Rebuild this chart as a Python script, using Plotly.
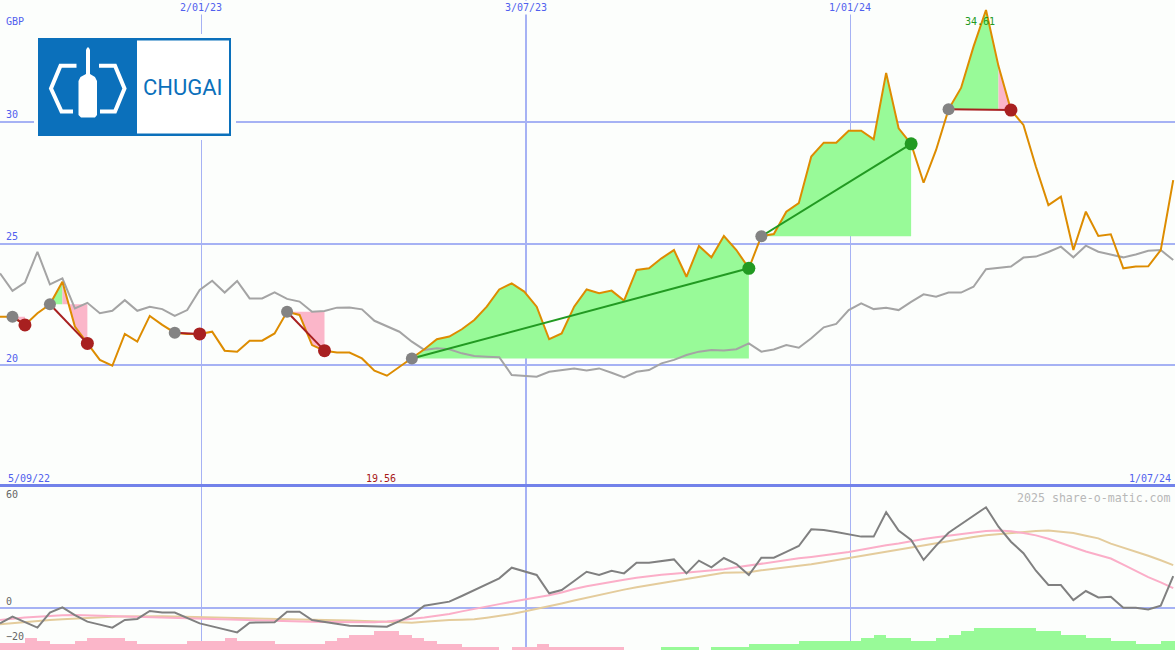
import pandas as pd
import plotly.graph_objects as go

# ---------------- data ----------------
start_date = "2022-09-11"
n_weeks = 95

price = [21.99, 21.99, 21.65, 22.13, 22.50, 23.43, 21.58, 20.89, 20.21, 19.97,
         21.28, 20.96, 22.02, 21.65, 21.33, 21.28, 21.28, 21.37, 20.59, 20.55,
         21.00, 21.00, 21.30, 22.19, 22.06, 20.82, 20.59, 20.51, 20.51, 20.27,
         19.77, 19.56, 19.93, 20.27, 20.65, 21.06, 21.17, 21.47, 21.85, 22.40,
         23.11, 23.36, 23.02, 22.40, 21.06, 21.30, 22.40, 23.11, 22.95, 23.06,
         22.65, 23.91, 23.98, 24.39, 24.73, 23.63, 24.90, 24.43, 25.31, 24.73,
         23.98, 25.30, 25.39, 26.31, 26.66, 28.58, 29.15, 29.15, 29.64, 29.64,
         29.29, 32.02, 29.74, 29.10, 27.50, 28.85, 30.52, 31.40, 33.10, 34.61,
         32.30, 30.49, 29.88, 28.16, 26.58, 26.93, 24.73, 26.31, 25.31, 25.38,
         23.98, 24.05, 24.06, 24.73, 27.61]

benchmark = [23.77, 23.05, 23.39, 24.66, 23.32, 23.57, 22.33, 22.56, 22.13, 22.23,
             22.67, 22.23, 22.40, 22.30, 22.02, 22.26, 23.09, 23.47, 22.98, 23.46,
             22.74, 22.74, 22.99, 22.72, 22.61, 22.19, 22.22, 22.36, 22.37, 22.29,
             21.82, 21.58, 21.37, 20.96, 20.62, 20.69, 20.65, 20.48, 20.37, 20.34,
             20.32, 19.59, 19.55, 19.52, 19.72, 19.79, 19.86, 19.77, 19.86, 19.68,
             19.49, 19.72, 19.79, 20.07, 20.21, 20.41, 20.55, 20.62, 20.60, 20.65,
             20.89, 20.55, 20.64, 20.82, 20.71, 21.10, 21.55, 21.69, 22.26, 22.54,
             22.30, 22.36, 22.26, 22.60, 22.91, 22.81, 22.98, 22.98, 23.22, 23.94,
             24.00, 24.05, 24.42, 24.46, 24.65, 24.87, 24.43, 24.91, 24.66, 24.55,
             24.43, 24.55, 24.70, 24.73, 24.32]

momentum = [-8.7, -4.9, -8.0, -11.1, -2.6, 0.4, -4.0, -7.7, -9.4, -11.1,
            -6.8, -6.2, -1.7, -2.6, -2.6, -5.6, -8.7, -10.4, -12.1, -13.8,
            -8.3, -8.2, -8.1, -2.1, -2.1, -6.8, -7.8, -8.7, -10.0, -10.2,
            -10.4, -10.6, -7.4, -4.0, 1.3, 2.5, 3.6, 6.8, 10.1, 13.5,
            16.8, 22.8, 20.8, 18.7, 8.3, 10.2, 15.3, 20.5, 18.7, 21.1,
            19.6, 25.6, 25.6, 26.5, 27.5, 19.6, 26.8, 23.0, 28.3, 24.9,
            18.7, 28.5, 28.5, 31.8, 35.1, 44.5, 44.1, 43.0, 41.5, 40.4,
            40.4, 54.2, 43.8, 38.5, 27.2, 35.3, 42.6, 47.4, 52.1, 57.0,
            46.0, 37.5, 31.0, 21.1, 13.0, 13.0, 4.5, 9.6, 6.0, 6.4,
            0.2, 0.2, -0.8, 1.3, 18.1]

ma_fast = [-6.8, -6.0, -5.4, -5.0, -4.5, -4.1, -4.0, -4.2, -4.6, -4.9,
           -5.0, -5.1, -5.3, -5.4, -5.6, -5.9, -6.2, -6.5, -6.8, -7.0,
           -7.1, -7.2, -7.3, -7.4, -7.6, -7.8, -7.9, -8.0, -8.1, -8.1,
           -8.1, -7.6, -7.0, -6.4, -5.4, -4.4, -3.4, -1.9, -0.4, 0.9,
           2.2, 3.5, 4.6, 5.9, 7.2, 8.8, 10.8, 12.3, 13.6, 15.0,
           16.0, 17.1, 18.1, 18.8, 19.4, 20.0, 20.6, 21.3, 21.9, 23.0,
           24.1, 25.2, 26.3, 27.3, 28.1, 28.9, 29.8, 30.7, 31.7, 33.0,
           34.4, 35.5, 36.5, 37.9, 39.0, 40.0, 41.0, 42.0, 42.8, 43.6,
           43.8, 43.4, 42.4, 41.1, 39.2, 36.8, 34.0, 32.0, 30.0, 28.0,
           24.5, 21.0, 17.5, 14.5, 11.2]

ma_slow = [-9.2, -8.5, -7.8, -7.2, -6.8, -6.4, -6.0, -5.5, -5.2, -5.0,
           -4.8, -4.6, -4.5, -4.6, -4.8, -5.0, -5.2, -5.4, -5.6, -5.8,
           -6.0, -6.2, -6.3, -6.5, -6.6, -6.7, -6.8, -7.0, -7.1, -7.2,
           -7.4, -7.8, -8.1, -8.3, -7.8, -7.2, -6.8, -6.6, -6.4, -5.5,
           -4.5, -3.4, -2.0, -0.6, 0.8, 2.6, 4.2, 5.8, 7.4, 9.0,
           10.4, 11.7, 12.9, 14.2, 15.4, 16.7, 17.8, 18.9, 20.0, 20.1,
           20.2, 21.3, 22.1, 22.9, 23.7, 24.8, 25.9, 27.1, 28.2, 29.4,
           30.6, 31.8, 33.1, 34.2, 35.5, 36.8, 38.1, 39.2, 40.2, 41.2,
           41.9, 42.5, 43.1, 43.6, 43.8, 43.2, 42.5, 40.9, 39.4, 36.4,
           34.2, 32.0, 29.6, 27.0, 24.3]

hist = [-7, -7, -12, -9, -6, -6, -9, -12, -12, -12,
        -9, -6, -6, -6, -6, -9, -9, -9, -12, -9,
        -9, -9, -6, -6, -6, -6, -9, -12, -15, -15,
        -19, -19, -15, -12, -9, -6, -6, -3, -3, -3,
        0, -3, -3, -6, -3, -3, -3, -3, -3, -3,
        0, 0, 0, 3, 3, 3, 0, 3, 3, 3,
        6, 6, 6, 6, 9, 9, 9, 9, 9, 12,
        15, 12, 12, 9, 9, 12, 15, 19, 22, 22,
        22, 22, 22, 19, 19, 15, 15, 12, 12, 9,
        9, 6, 6, 9, 9]

trade_entry = [1, 4, 14, 23, 33, 61, 76]
trade_exit = [2, 7, 16, 26, 60, 73, 81]
trade_split = [1, 5, 14, 23, 60, 73, 80]

tick_dates = ["2023-01-02", "2023-07-03", "2024-01-01"]
tick_labels = ["2/01/23", "3/07/23", "1/01/24"]
price_ticks = [20, 25, 30]
osc_ticks = [-20, 0, 60]
first_label = "5/09/22"
last_label = "1/07/24"
currency = "GBP"
brand = "CHUGAI"
credit = "2025 share-o-matic.com"

# ---------------- styling ----------------
W, H = 1175, 650
BG = "#fcfefc"
GRID = "#a6b2f4"
BLUE_TXT = "#5060ee"
ORANGE = "#dd8c00"
GREY = "#a4a4a4"
GREEN_FILL = "#98fa98"
PINK_FILL = "#fbb6c9"
WIN = "#229a22"
LOSS = "#a82020"
MONO = "DejaVu Sans Mono"
LOGO_BLUE = "#0b70bb"

split_px = 487
main_dom = [1 - split_px / H, 1]
low_dom = [0, 1 - split_px / H]

dates = pd.date_range(start_date, periods=n_weeks, freq="7D")
x_range = [dates[0], dates[-1] + pd.Timedelta(days=1)]

fig = go.Figure()

# trade fills
for e, s, x_ in zip(trade_entry, trade_split, trade_exit):
    level = price[e]
    if s > e:
        xs = list(dates[e:s + 1]) + [dates[s], dates[e]]
        ys = price[e:s + 1] + [level, level]
        fig.add_trace(go.Scatter(x=xs, y=ys, fill="toself", fillcolor=GREEN_FILL,
                                 mode="none", hoverinfo="skip"))
    if x_ > s:
        xs = list(dates[s:x_ + 1]) + [dates[x_], dates[s]]
        ys = price[s:x_ + 1] + [level, level]
        fig.add_trace(go.Scatter(x=xs, y=ys, fill="toself", fillcolor=PINK_FILL,
                                 mode="none", hoverinfo="skip"))

# benchmark and price
fig.add_trace(go.Scatter(x=dates, y=benchmark, mode="lines",
                         line=dict(color=GREY, width=2)))
fig.add_trace(go.Scatter(x=dates, y=price, mode="lines",
                         line=dict(color=ORANGE, width=2)))

# trade lines and markers
for e, x_ in zip(trade_entry, trade_exit):
    col = WIN if price[x_] > price[e] else LOSS
    fig.add_trace(go.Scatter(x=[dates[e], dates[x_]], y=[price[e], price[x_]],
                             mode="lines", line=dict(color=col, width=2)))
for e, x_ in zip(trade_entry, trade_exit):
    col = WIN if price[x_] > price[e] else LOSS
    fig.add_trace(go.Scatter(x=[dates[e]], y=[price[e]], mode="markers",
                             marker=dict(color="#838383", size=12)))
    fig.add_trace(go.Scatter(x=[dates[x_]], y=[price[x_]], mode="markers",
                             marker=dict(color=col, size=13)))

# lower panel
fig.add_trace(go.Scatter(x=dates, y=ma_slow, mode="lines", xaxis="x2", yaxis="y2",
                         line=dict(color="#e4cc9c", width=2)))
fig.add_trace(go.Scatter(x=dates, y=ma_fast, mode="lines", xaxis="x2", yaxis="y2",
                         line=dict(color="#fbaec8", width=2)))
fig.add_trace(go.Scatter(x=dates, y=momentum, mode="lines", xaxis="x2", yaxis="y2",
                         line=dict(color="#808080", width=2)))
fig.add_trace(go.Bar(x=dates, y=[abs(v) for v in hist], xaxis="x2", yaxis="y3",
                     marker=dict(color=[GREEN_FILL if v > 0 else PINK_FILL for v in hist],
                                 line=dict(width=0)),
                     width=7 * 86400000, offset=0))

grid_common = dict(
    type="date", range=x_range, showgrid=True,
    tickmode="array", tickvals=[tick_dates[1]], gridcolor=GRID, gridwidth=2,
    minor=dict(tickmode="array", tickvals=[tick_dates[0], tick_dates[2]],
               showgrid=True, gridcolor=GRID, gridwidth=1, ticks=""),
    showticklabels=False, zeroline=False, ticks="",
)

fig.update_layout(
    width=W, height=H,
    margin=dict(l=0, r=0, t=0, b=0),
    paper_bgcolor=BG, plot_bgcolor=BG,
    showlegend=False,
    xaxis=dict(domain=[0, 1], anchor="y", **grid_common),
    xaxis2=dict(domain=[0, 1], anchor="y2", matches="x", side="top",
                showline=True, linecolor="#7282ea", linewidth=3, **grid_common),
    yaxis=dict(domain=main_dom, range=[14.98, 35.02], tickmode="array",
               tickvals=price_ticks, showgrid=True, gridcolor=GRID, gridwidth=2,
               zeroline=False, ticks="", ticklabelposition="inside top",
               ticklabelstandoff=3,
               tickfont=dict(family=MONO, size=10, color=BLUE_TXT)),
    yaxis2=dict(domain=low_dom, range=[-23.77, 68.48], tickmode="array",
                tickvals=osc_ticks, showgrid=False, zeroline=True,
                zerolinecolor=GRID, zerolinewidth=2, ticks="",
                ticklabelposition="inside top", ticklabelstandoff=3,
                tickfont=dict(family=MONO, size=10, color="#666666")),
    yaxis3=dict(overlaying="y2", range=[0, 163], visible=False),
    bargap=0,
)

ann = []
for d, t in zip(tick_dates, tick_labels):
    ann.append(dict(x=d, xref="x", y=1, yref="paper", yanchor="top", text=t,
                    showarrow=False, bgcolor=BG, borderpad=1,
                    font=dict(family=MONO, size=10, color=BLUE_TXT)))
ann.append(dict(x=0, xref="paper", xanchor="left", xshift=4, y=1, yref="paper",
                yanchor="top", yshift=-14, text=currency, showarrow=False,
                font=dict(family=MONO, size=10, color=BLUE_TXT)))
ann.append(dict(x=0, xref="paper", xanchor="left", xshift=6, y=main_dom[0], yref="paper",
                yanchor="bottom", yshift=1, text=first_label, showarrow=False,
                font=dict(family=MONO, size=10, color=BLUE_TXT)))
ann.append(dict(x=1, xref="paper", xanchor="right", xshift=-2, y=main_dom[0], yref="paper",
                yanchor="bottom", yshift=1, text=last_label, showarrow=False,
                font=dict(family=MONO, size=10, color=BLUE_TXT)))
imin = price.index(min(price))
imax = price.index(max(price))
ann.append(dict(x=dates[imin], xref="x", xshift=-6, y=main_dom[0], yref="paper",
                yanchor="bottom", yshift=1, text=f"{price[imin]:.2f}", showarrow=False,
                font=dict(family=MONO, size=10, color="#a81818")))
ann.append(dict(x=dates[imax], xref="x", xshift=-6, y=price[imax], yref="y",
                yanchor="top", yshift=-4, text=f"{price[imax]:.2f}", showarrow=False,
                font=dict(family=MONO, size=10, color=WIN)))
ann.append(dict(x=1, xref="paper", xanchor="right", xshift=-2, y=main_dom[0], yref="paper",
                yanchor="top", yshift=-2, text=credit, showarrow=False,
                font=dict(family=MONO, size=11.6, color="#b8b8b8")))


# ---- logo (decoration) ----
def px(x, y):
    return x / W, 1 - y / H


def rect(x0, y0, x1, y1, color):
    a, b = px(x0, y0)
    c, d = px(x1, y1)
    return dict(type="rect", xref="paper", yref="paper", x0=a, y0=d, x1=c, y1=b,
                fillcolor=color, line=dict(width=0), layer="above")


def path(points, closed, fill=None, stroke=None, width=0):
    s = ""
    for cmd, x, y in points:
        a, b = px(x, y)
        s += f"{cmd}{a:.5f},{b:.5f} "
    if closed:
        s += "Z"
    d = dict(type="path", xref="paper", yref="paper", path=s, layer="above")
    d["fillcolor"] = fill if fill else "rgba(0,0,0,0)"
    d["line"] = dict(color=stroke if stroke else "rgba(0,0,0,0)", width=width)
    return d


shapes = [
    rect(34, 34, 236, 140, BG),
    rect(38, 38, 231, 136, LOGO_BLUE),
    rect(137, 40.5, 229, 133.5, "#ffffff"),
    path([("M", 76.5, 65.7), ("L", 60.5, 65.7), ("L", 51, 88.5), ("L", 61.5, 111.5),
          ("L", 73, 111.5)], False, stroke="#ffffff", width=4),
    path([("M", 99, 65.7), ("L", 115, 65.7), ("L", 124.5, 88.5), ("L", 115, 111.5),
          ("L", 100, 111.5)], False, stroke="#ffffff", width=4),
    path([("M", 86, 50), ("L", 87.2, 47.5), ("L", 88.8, 47.5), ("L", 90, 50),
          ("L", 90, 74), ("L", 95, 77), ("L", 97, 81), ("L", 97, 115), ("L", 95, 117.5),
          ("L", 81, 117.5), ("L", 78.5, 115), ("L", 78.5, 81), ("L", 80.5, 77),
          ("L", 86, 74)], True, fill="#ffffff"),
]
ann.append(dict(x=183 / W, xref="paper", xanchor="center", y=1 - 87.5 / H, yref="paper",
                yanchor="middle", text=brand, showarrow=False,
                font=dict(family="Roboto", size=22, color=LOGO_BLUE)))

fig.update_layout(annotations=ann, shapes=shapes)

fig.write_html("out.html", config={"displayModeBar": False},
               post_script="document.body.style.margin='0';")
